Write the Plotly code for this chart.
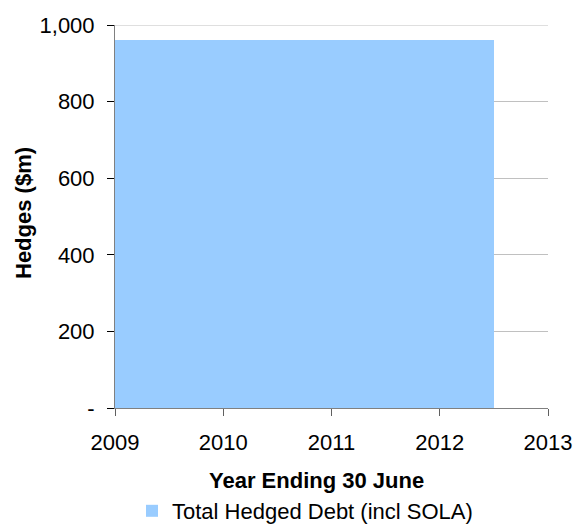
import plotly.graph_objects as go

series_name = "Total Hedged Debt (incl SOLA)"
period_start = [2009]
period_end = [2012.5]
hedged_debt = [961]

y_tickvals = [0, 200, 400, 600, 800, 1000]
y_ticktext = ["-", "200", "400", "600", "800", "1,000"]
x_tickvals = [2009, 2010, 2011, 2012, 2013]
x_title = "Year Ending 30 June"
y_title = "Hedges ($m)"

fig = go.Figure()
fig.add_trace(go.Bar(
    x=period_start,
    y=hedged_debt,
    width=[e - s for s, e in zip(period_start, period_end)],
    offset=0,
    name=series_name,
    marker=dict(color="#99ccff", line=dict(width=0)),
    showlegend=True,
))

font = "Liberation Sans, Arial, sans-serif"
fig.update_layout(
    width=574, height=524,
    margin=dict(l=115, r=26, t=25, b=116, autoexpand=False),
    paper_bgcolor="white", plot_bgcolor="white",
    font=dict(family=font, size=22, color="black"),
    showlegend=True,
    legend=dict(orientation="h", xref="container", yref="container",
                x=132 / 574, xanchor="left", y=(524 - 511) / 524, yanchor="middle",
                font=dict(size=22), itemsizing="constant", borderwidth=0,
                bgcolor="rgba(0,0,0,0)"),
    bargap=0,
)
fig.add_shape(type="line", xref="paper", x0=0, x1=1, yref="y",
              y0=y_tickvals[-1], y1=y_tickvals[-1],
              line=dict(color="#c0c0c0", width=1), layer="below")
fig.add_annotation(text="<b>" + x_title + "</b>", xref="paper", yref="paper",
                   x=(316 - 115) / 433, y=(408 - 480) / 383,
                   xanchor="center", yanchor="middle", showarrow=False,
                   font=dict(size=22))
fig.add_annotation(text="<b>" + y_title + "</b>", xref="paper", yref="paper",
                   x=(23 - 115) / 433, y=(408 - 213) / 383, textangle=-90,
                   xanchor="center", yanchor="middle", showarrow=False,
                   font=dict(size=22))
fig.update_xaxes(
    range=[2009, 2013], tickvals=x_tickvals, ticks="outside", ticklen=7,
    tickcolor="#606060", showline=True, linecolor="#808080", linewidth=1,
    showgrid=False, zeroline=False, ticklabelstandoff=8,
)
fig.update_yaxes(
    range=[0, 1000], tickvals=y_tickvals, ticktext=y_ticktext, ticks="outside", ticklen=7,
    tickcolor="#000000", showline=True, linecolor="#808080", linewidth=1,
    showgrid=True, gridcolor="#c0c0c0", gridwidth=1, zeroline=False, ticklabelstandoff=8,
)
fig.write_html("out.html")
